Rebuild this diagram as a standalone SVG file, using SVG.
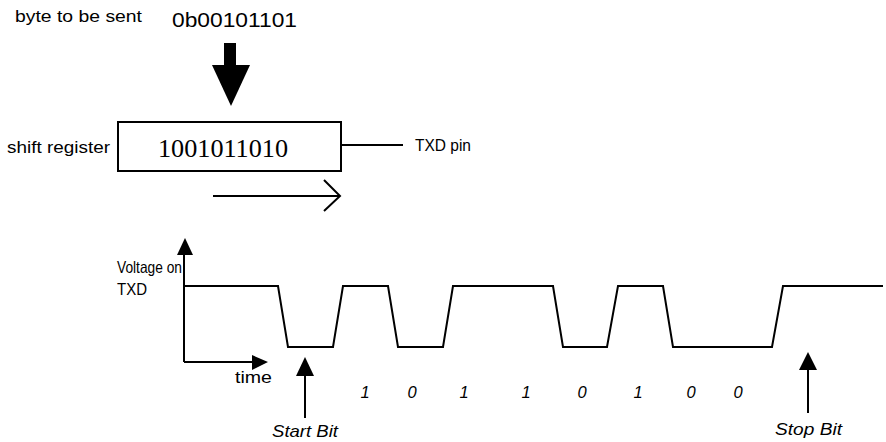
<svg xmlns="http://www.w3.org/2000/svg" width="886" height="442" viewBox="0 0 886 442">
<style>
.t{font-family:"Liberation Sans",Arial,sans-serif;font-size:16.5px;fill:#000}
.it{font-style:italic}
.ln{stroke:#000;stroke-width:2;fill:none}
.w{stroke:#000;stroke-width:2;fill:none;stroke-linejoin:miter}
</style>
<rect width="886" height="442" fill="#fff"/>
<g id="byte">
<text class="t" x="15" y="22" textLength="127" lengthAdjust="spacingAndGlyphs">byte to be sent</text>
<text class="t" x="172" y="27" style="font-size:21px" textLength="125" lengthAdjust="spacingAndGlyphs">0b00101101</text>
</g>
<g id="load-arrow">
<rect x="224" y="43" width="12" height="23" fill="#000"/>
<polygon points="212,65 250,65 231,106" fill="#000"/>
</g>
<g id="shift-register">
<text class="t" x="7" y="153" textLength="103" lengthAdjust="spacingAndGlyphs">shift register</text>
<rect x="118" y="122" width="223" height="49" fill="#fff" stroke="#000" stroke-width="2"/>
<text x="158" y="157" style="font-family:'Liberation Serif','Times New Roman',serif;font-size:26px" textLength="130" lengthAdjust="spacingAndGlyphs">1001011010</text>
</g>
<g id="txd-pin">
<text class="t" x="415" y="151" textLength="56" lengthAdjust="spacingAndGlyphs">TXD pin</text>
</g>
<g id="connectors">
<line class="ln" x1="341" y1="145" x2="403" y2="145"/>
<line class="ln" x1="213" y1="196" x2="340" y2="196"/>
<polyline class="ln" points="324,180 340,196 324,211"/>
<line class="ln" x1="184" y1="362" x2="184" y2="250"/>
<polygon points="177,255 193,255 185,238" fill="#000"/>
<line class="ln" x1="184" y1="362" x2="255" y2="362"/>
<polygon points="252,355 252,370 268,362" fill="#000"/>
<line class="ln" x1="305" y1="418" x2="305" y2="372"/>
<polygon points="296,376 314,376 305,357" fill="#000"/>
<line class="ln" x1="808" y1="413" x2="808" y2="366"/>
<polygon points="799,370 817,370 808,352" fill="#000"/>
</g>
<g id="waveform">
<polyline class="w" points="184,286 278,286 288,347 333,347 343,286 388,286 398,347 443,347 453,286 553,286 563,347 607,347 618,286 663,286 673,347 772,347 783,286 883,286"/>
</g>
<g id="axis-labels">
<text class="t" x="117" y="273" textLength="65" lengthAdjust="spacingAndGlyphs">Voltage on</text>
<text class="t" x="117" y="295" textLength="30" lengthAdjust="spacingAndGlyphs">TXD</text>
<text class="t" x="235" y="383" textLength="37" lengthAdjust="spacingAndGlyphs">time</text>
</g>
<g id="bits" style="font-size:16px">
<text class="t it" x="365" y="398" text-anchor="middle">1</text>
<text class="t it" x="412" y="398" text-anchor="middle">0</text>
<text class="t it" x="464" y="398" text-anchor="middle">1</text>
<text class="t it" x="526" y="398" text-anchor="middle">1</text>
<text class="t it" x="582" y="398" text-anchor="middle">0</text>
<text class="t it" x="638" y="398" text-anchor="middle">1</text>
<text class="t it" x="691" y="398" text-anchor="middle">0</text>
<text class="t it" x="738" y="398" text-anchor="middle">0</text>
</g>
<g id="start-bit">
<text class="t it" x="272" y="437" textLength="66" lengthAdjust="spacingAndGlyphs">Start Bit</text>
</g>
<g id="stop-bit">
<text class="t it" x="775" y="435" textLength="67" lengthAdjust="spacingAndGlyphs">Stop Bit</text>
</g>
</svg>
